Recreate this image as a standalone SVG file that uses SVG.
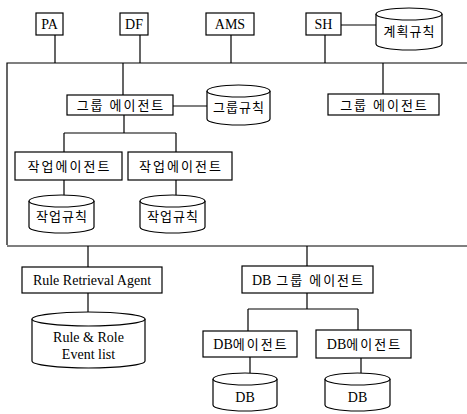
<svg xmlns="http://www.w3.org/2000/svg" width="467" height="414" viewBox="0 0 467 414">
<style>
.box{fill:#fff;stroke:#000;stroke-width:1.2}
.cyl{fill:#fff;stroke:#000;stroke-width:1.2}
.ln{fill:none;stroke:#000;stroke-width:1.2}
.en{font-family:"Liberation Serif","Times New Roman",serif;font-size:14px;fill:#000;text-anchor:middle}
.ko{font-family:"Noto Sans CJK KR","Noto Sans",sans-serif;font-size:13px;letter-spacing:2px;fill:#000;text-anchor:middle}
.kc{font-family:"Noto Sans CJK KR","Noto Sans",sans-serif;font-size:13px;letter-spacing:1px;fill:#000;text-anchor:middle}
.lat{font-family:"Liberation Serif","Times New Roman",serif;font-size:14px;letter-spacing:0}
</style>
<rect width="467" height="414" fill="#fff"/>
<g id="connectors">
<path class="ln" d="M7,245 V63 H467"/>
<path class="ln" d="M7,246 H467"/>
<path class="ln" d="M55,35 V63 M140,35 V63 M231,35 V63 M325,35 V63"/>
<path class="ln" d="M341,25 H376"/>
<path class="ln" d="M123,63 V95 M383,63 V94"/>
<path class="ln" d="M173,106 H207"/>
<path class="ln" d="M124,115 V133 M64,133 H176 M64,133 V152 M176,133 V152"/>
<path class="ln" d="M64,180 V196 M176,180 V196"/>
<path class="ln" d="M88,246 V267 M307,246 V266"/>
<path class="ln" d="M88,293 V312"/>
<path class="ln" d="M307,293 V309 M248,309 H358 M248,309 V331 M358,309 V330"/>
<path class="ln" d="M250,357 V373 M361,358 V373"/>
</g>
<g id="PA"><rect class="box" x="36" y="13" width="27" height="22"/><text class="en" x="49.5" y="29">PA</text></g>
<g id="DF"><rect class="box" x="120" y="13" width="28" height="22"/><text class="en" x="134" y="29">DF</text></g>
<g id="AMS"><rect class="box" x="206" y="13" width="48" height="22"/><text class="en" x="230" y="29">AMS</text></g>
<g id="SH"><rect class="box" x="306" y="13" width="35" height="22"/><text class="en" x="323.5" y="29">SH</text></g>
<g id="plan-rules"><path class="cyl" d="M376,14 V44 A33,6 0 0 0 442,44 V14"/><ellipse class="cyl" cx="409" cy="14" rx="33" ry="6"/><text class="kc" x="409.5" y="36">계획규칙</text></g>
<g id="group-agent-1"><rect class="box" x="67" y="95" width="106" height="20"/><text class="ko" x="121" y="110">그룹 에이전트</text></g>
<g id="group-rules"><path class="cyl" d="M207,91 V119 A31.5,6 0 0 0 270,119 V91"/><ellipse class="cyl" cx="238.5" cy="91" rx="31.5" ry="6"/><text class="kc" x="239" y="112">그룹규칙</text></g>
<g id="group-agent-2"><rect class="box" x="328" y="94" width="111" height="21"/><text class="ko" x="384.5" y="109.5">그룹 에이전트</text></g>
<g id="work-agent-1"><rect class="box" x="15" y="152" width="107" height="28"/><text class="ko" x="69.5" y="170.5">작업에이전트</text></g>
<g id="work-agent-2"><rect class="box" x="128" y="152" width="104" height="28"/><text class="ko" x="181" y="170.5">작업에이전트</text></g>
<g id="work-rules-1"><path class="cyl" d="M29,201 V227 A32.5,6 0 0 0 94,227 V201"/><ellipse class="cyl" cx="61.5" cy="201" rx="32.5" ry="6"/><text class="kc" x="62" y="221">작업규칙</text></g>
<g id="work-rules-2"><path class="cyl" d="M140,201 V227 A32.5,6 0 0 0 205,227 V201"/><ellipse class="cyl" cx="172.5" cy="201" rx="32.5" ry="6"/><text class="kc" x="173" y="221">작업규칙</text></g>
<g id="rule-retrieval-agent"><rect class="box" x="22" y="267" width="140" height="26"/><text class="en" x="92" y="285">Rule Retrieval Agent</text></g>
<g id="rule-role-event-list"><path class="cyl" d="M32,319 V361 A56.5,7 0 0 0 145,361 V319"/><ellipse class="cyl" cx="88.5" cy="319" rx="56.5" ry="7"/><text class="en" x="88.5" y="342">Rule &amp; Role</text><text class="en" x="88.5" y="359">Event list</text></g>
<g id="db-group-agent"><rect class="box" x="242" y="266" width="131" height="27"/><text class="ko" x="308.5" y="284.5"><tspan class="lat">DB</tspan> 그룹 에이전트</text></g>
<g id="db-agent-1"><rect class="box" x="203" y="331" width="94" height="26"/><text class="ko" x="251" y="348.5"><tspan class="lat">DB</tspan>에이전트</text></g>
<g id="db-agent-2"><rect class="box" x="316" y="330" width="95" height="28"/><text class="ko" x="364.5" y="348.5"><tspan class="lat">DB</tspan>에이전트</text></g>
<g id="db-1"><path class="cyl" d="M213,379 V405 A32,6 0 0 0 277,405 V379"/><ellipse class="cyl" cx="245" cy="379" rx="32" ry="6"/><text class="en" x="245" y="402">DB</text></g>
<g id="db-2"><path class="cyl" d="M325,379 V405 A32.5,6 0 0 0 390,405 V379"/><ellipse class="cyl" cx="357.5" cy="379" rx="32.5" ry="6"/><text class="en" x="357.5" y="402">DB</text></g>
</svg>
